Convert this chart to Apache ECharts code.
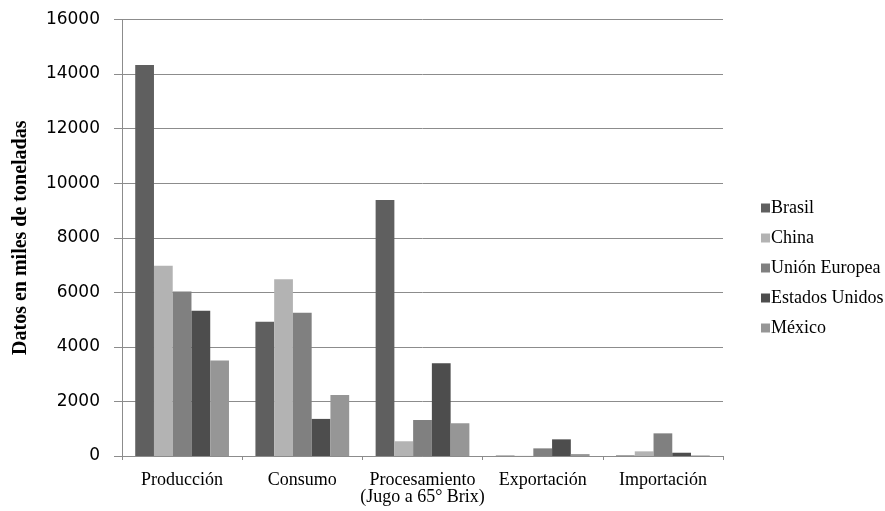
<!DOCTYPE html>
<html>
<head>
<meta charset="utf-8">
<script src="https://cdn.jsdelivr.net/npm/echarts@6/dist/echarts.min.js"></script>
<style>
  html, body { margin: 0; padding: 0; background: #ffffff; }
  #chart { width: 885px; height: 511px; }
</style>
</head>
<body>
<div id="chart"></div>
<script>
// Categorías del eje X
const categorias = ['Producción', 'Consumo', 'Procesamiento\n(Jugo a 65° Brix)', 'Exportación', 'Importación'];

// Valores en miles de toneladas por país
const brasil        = [14330, 4920, 9380, 15, 20];
const china         = [6970, 6480, 540, 5, 170];
const unionEuropea  = [6030, 5250, 1320, 280, 830];
const estadosUnidos = [5320, 1360, 3400, 610, 120];
const mexico        = [3500, 2240, 1200, 70, 20];

const nombres = ['Brasil', 'China', 'Unión Europea', 'Estados Unidos', 'México'];
const colores = ['#5f5f5f', '#b3b3b3', '#808080', '#4d4d4d', '#969696'];
const valores = [brasil, china, unionEuropea, estadosUnidos, mexico];

const chart = echarts.init(document.getElementById('chart'), null, { renderer: 'canvas' });

const serif = 'Liberation Serif, Times New Roman, serif';

chart.setOption({
  animation: false,
  backgroundColor: '#ffffff',
  grid: { left: 122, right: 162, top: 19.5, bottom: 55, containLabel: false, outerBoundsMode: 'none' },
  legend: {
    orient: 'vertical',
    left: 756,
    top: 194,
    itemWidth: 9,
    itemHeight: 9,
    itemGap: 12,
    icon: 'rect',
    textStyle: { fontFamily: serif, fontSize: 18, color: '#000', padding: [0, 0, 0, -4] },
    data: nombres
  },
  xAxis: {
    type: 'category',
    data: categorias,
    axisLine: { lineStyle: { color: '#8c8c8c', width: 1 } },
    axisTick: { show: true, alignWithLabel: false, length: 4, lineStyle: { color: '#8c8c8c' } },
    axisLabel: {
      fontFamily: serif, fontSize: 18, color: '#000', margin: 16, lineHeight: 17, interval: 0
    }
  },
  yAxis: {
    type: 'value',
    min: 0, max: 16000, interval: 2000,
    name: 'Datos en miles de toneladas',
    nameLocation: 'middle',
    nameGap: 91,
    nameTextStyle: { fontFamily: serif, fontSize: 20, fontWeight: 'bold', color: '#000' },
    axisLine: { show: true, lineStyle: { color: '#8c8c8c', width: 1 } },
    axisTick: { show: true, length: 8, lineStyle: { color: '#8c8c8c' } },
    axisLabel: {
      fontFamily: 'DejaVu Sans, sans-serif', fontSize: 17, color: '#000', margin: 22,
      formatter: v => String(v)
    },
    splitLine: { show: true, lineStyle: { color: '#8c8c8c', width: 1 } }
  },
  series: nombres.map((n, i) => ({
    name: n,
    type: 'bar',
    data: valores[i],
    barGap: '0%',
    barCategoryGap: '22%',
    itemStyle: { color: colores[i] }
  }))
});
</script>
</body>
</html>
